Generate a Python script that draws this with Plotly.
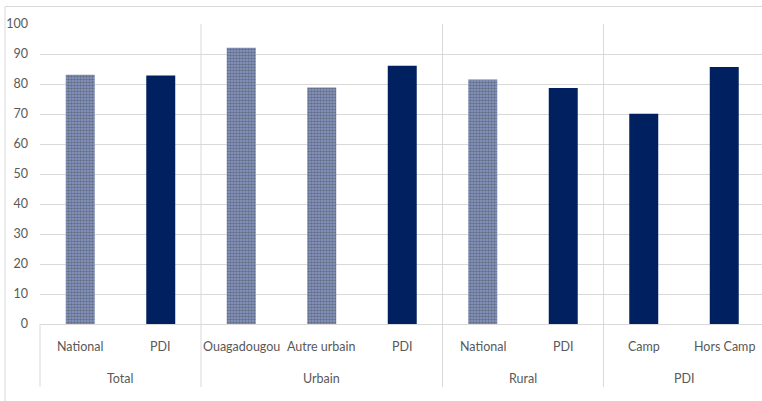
import plotly.graph_objects as go

# Two-level categories: group / sub-category
groups = ["Total", "Total", "Urbain", "Urbain", "Urbain", "Rural", "Rural", "PDI", "PDI"]
labels = ["National", "PDI", "Ouagadougou", "Autre urbain", "PDI", "National", "PDI", "Camp", "Hors Camp"]
values = [83.1, 82.8, 92.1, 78.8, 86.1, 81.5, 78.7, 70.1, 85.7]
patterned = [True, False, True, True, False, True, False, False, False]
y_ticks = [0, 10, 20, 30, 40, 50, 60, 70, 80, 90, 100]

NAVY = "#002060"
LIGHT = "#8a9bcb"
GRID = "#d9d9d9"
TEXT = "#595959"
FONT = "Lato"

W, H = 762, 401
ML, MR, MT, MB = 40, 0, 24, 77
PW, PH = W - ML - MR, H - MT - MB

x_idx = list(range(len(labels)))
x_range = [-0.5, -0.5 + PW / 80.5]


def px(x):
    return (x - ML) / PW


def py(y):
    return (MT + PH - y) / PH


def xpaper(v):
    return (v - x_range[0]) / (x_range[1] - x_range[0])


fig = go.Figure(
    go.Bar(
        x=x_idx,
        y=values,
        width=0.36,
        marker=dict(
            color=[LIGHT if p else NAVY for p in patterned],
            line=dict(width=0),
            pattern=dict(
                shape=["." if p else "" for p in patterned],
                fgcolor=NAVY,
                bgcolor=LIGHT,
                size=3,
                solidity=0.55,
            ),
        ),
        hoverinfo="skip",
    )
)

shapes = []
# outer chart frame
shapes.append(dict(type="rect", xref="paper", yref="paper",
                   x0=px(5), x1=px(770), y0=py(410), y1=py(6.5),
                   line=dict(color=GRID, width=1), fillcolor="rgba(0,0,0,0)", layer="below"))

# group boundaries: separators in the plot area and through the label rows
bounds = []
for i in range(1, len(groups)):
    if groups[i] != groups[i - 1]:
        bounds.append(i - 0.5)
for b in bounds:
    shapes.append(dict(type="line", xref="paper", yref="paper",
                       x0=xpaper(b), x1=xpaper(b), y0=py(387), y1=1,
                       line=dict(color=GRID, width=1), layer="below"))
shapes.append(dict(type="line", xref="paper", yref="paper",
                   x0=xpaper(-0.5), x1=xpaper(-0.5), y0=py(387), y1=0,
                   line=dict(color=GRID, width=1), layer="below"))

annotations = []
for i, lab in enumerate(labels):
    annotations.append(dict(x=xpaper(i), y=py(346), xref="paper", yref="paper",
                            text=lab, showarrow=False, xanchor="center", yanchor="middle",
                            font=dict(family=FONT, size=12.5, color=TEXT)))
# group labels centred under their categories
start = 0
for i in range(1, len(groups) + 1):
    if i == len(groups) or groups[i] != groups[start]:
        center = (start + i - 1) / 2
        annotations.append(dict(x=xpaper(center), y=py(378), xref="paper", yref="paper",
                                text=groups[start], showarrow=False, xanchor="center", yanchor="middle",
                                font=dict(family=FONT, size=12.5, color=TEXT)))
        start = i

fig.update_layout(
    width=W, height=H,
    margin=dict(l=ML, r=MR, t=MT, b=MB),
    paper_bgcolor="white", plot_bgcolor="white",
    showlegend=False,
    shapes=shapes,
    annotations=annotations,
    xaxis=dict(range=x_range, showticklabels=False, showgrid=False, zeroline=False,
               showline=True, linecolor=GRID, linewidth=1, ticks=""),
    yaxis=dict(range=[0, 100], tickvals=y_ticks, showgrid=True, gridcolor=GRID, gridwidth=1,
               zeroline=False, showline=False, ticks="", ticklabelstandoff=11,
               tickfont=dict(family=FONT, size=12.5, color=TEXT)),
)

fig.write_html("out.html")
